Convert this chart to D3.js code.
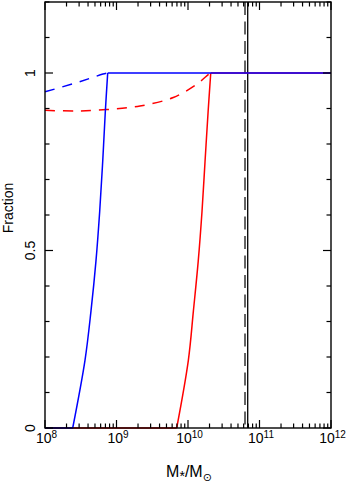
<!DOCTYPE html>
<html>
<head>
  <meta charset="UTF-8">
  <style>
    body { margin: 0; background: white; }
    svg text { font-family: "Liberation Sans", Arial, sans-serif; fill: black; }
  </style>
</head>
<body>
<svg id="chart" width="349" height="484"></svg>
<script src="https://d3js.org/d3.v7.min.js"></script>
<script>

// stellar mass and fraction for each curve
let blueSolidMass = [1e8, 2.44e8, 3.62e8, 4.4e8, 5.16e8, 5.82e8, 6.41e8, 6.97e8, 7.53e8, 1e12];
let blueSolidFrac = [0, 0, 0.19, 0.33, 0.47, 0.61, 0.75, 0.89, 1, 1];

let redSolidMass = [1e8, 6.95e9, 1.01e10, 1.19e10, 1.39e10, 1.57e10, 1.73e10, 1.91e10, 2.08e10, 1e12];
let redSolidFrac = [0, 0, 0.19, 0.33, 0.47, 0.61, 0.75, 0.89, 1, 1];

let blueDashMass = [1e8, 2.49e8, 4.27e8, 6.46e8, 7.53e8];
let blueDashFrac = [0.947, 0.970, 0.985, 0.997, 1.0];

let redDashMass = [1e8, 2.63e8, 7.3e8, 2.13e9, 6.22e9, 1.32e10, 1.83e10, 2.08e10];
let redDashFrac = [0.895, 0.893, 0.897, 0.907, 0.931, 0.968, 0.992, 1.0];

let vlineSolid = 6.84e10;
let vlineDash = 6.27e10;

let xMajor = [1e8, 1e9, 1e10, 1e11, 1e12];
let yMajor = [0, 0.5, 1];
let yLabels = ["0", "0.5", "1"];

let mLeft = 45, mRight = 331, mTop = 2, mBottom = 428;

let x = d3.scaleLog().domain([1e8, 1e12]).range([mLeft, mRight]);
let y = d3.scaleLinear().domain([0, 1.2]).range([mBottom, mTop]);

let svg = d3.select("#chart");

let smooth = d3.line()
    .x(d => x(d[0]))
    .y(d => y(d[1]))
    .curve(d3.curveCatmullRom.alpha(0.5));
let straight = d3.line()
    .x(d => x(d[0]))
    .y(d => y(d[1]));

function zip(a, b) { return a.map((v, i) => [v, b[i]]); }

// solid curves: flat at 0, rising part, flat at 1
function solidPath(mass, frac) {
    let pts = zip(mass, frac);
    let n = pts.length;
    return straight(pts.slice(0, 2)) + smooth(pts.slice(1, n - 1)) + straight(pts.slice(n - 2));
}

// vertical lines
svg.append("line")
    .attr("x1", x(vlineDash)).attr("x2", x(vlineDash))
    .attr("y1", mTop).attr("y2", mBottom)
    .attr("stroke", "#333").attr("stroke-width", 1.5)
    .attr("stroke-dasharray", "13,6.5");
svg.append("line")
    .attr("x1", x(vlineSolid)).attr("x2", x(vlineSolid))
    .attr("y1", mTop).attr("y2", mBottom)
    .attr("stroke", "black").attr("stroke-width", 1.3);

let curves = [
    {d: smooth(zip(redDashMass, redDashFrac)), color: "red", dash: "10,8"},
    {d: smooth(zip(blueDashMass, blueDashFrac)), color: "blue", dash: "10,8"},
    {d: solidPath(redSolidMass, redSolidFrac), color: "red", dash: null},
    {d: solidPath(blueSolidMass, blueSolidFrac), color: "blue", dash: null}
];

svg.selectAll("path.curve")
    .data(curves)
    .enter()
    .append("path")
    .attr("class", "curve")
    .attr("d", d => d.d)
    .attr("fill", "none")
    .attr("stroke", d => d.color)
    .attr("stroke-width", 1.5)
    .attr("stroke-dasharray", d => d.dash);

// ticks, all four sides, pointing inward
let xTicks = x.ticks();
let yTicks = d3.range(0, 1.21, 0.1).map(v => +v.toFixed(1));
let isMajorX = v => xMajor.some(m => Math.abs(m - v) / m < 1e-6);
let isMajorY = v => yMajor.some(m => Math.abs(m - v) < 1e-6);

let tg = svg.append("g").attr("stroke", "black").attr("stroke-width", 1.2);
xTicks.forEach(v => {
    let len = isMajorX(v) ? 8 : 4.5;
    tg.append("line").attr("x1", x(v)).attr("x2", x(v)).attr("y1", mBottom).attr("y2", mBottom - len);
    tg.append("line").attr("x1", x(v)).attr("x2", x(v)).attr("y1", mTop).attr("y2", mTop + len);
});
yTicks.forEach(v => {
    let len = isMajorY(v) ? 8 : 4.5;
    tg.append("line").attr("x1", mLeft).attr("x2", mLeft + len).attr("y1", y(v)).attr("y2", y(v));
    tg.append("line").attr("x1", mRight).attr("x2", mRight - len).attr("y1", y(v)).attr("y2", y(v));
});

// frame
svg.append("rect")
    .attr("x", mLeft).attr("y", mTop)
    .attr("width", mRight - mLeft).attr("height", mBottom - mTop)
    .attr("fill", "none").attr("stroke", "black").attr("stroke-width", 1.4);

// x tick labels
xMajor.forEach(v => {
    let t = svg.append("text")
        .attr("x", x(v) + 1.5).attr("y", 443)
        .attr("text-anchor", "middle")
        .attr("font-size", 14);
    t.append("tspan").text("10");
    t.append("tspan").attr("font-size", 10).attr("dy", -5).text(Math.round(Math.log10(v)));
});

// y tick labels
yMajor.forEach((v, i) => {
    svg.append("text")
        .attr("transform", "translate(35," + y(v) + ") rotate(-90)")
        .attr("text-anchor", "middle")
        .attr("font-size", 14)
        .text(yLabels[i]);
});

// axis titles
svg.append("text")
    .attr("transform", "translate(13,208) rotate(-90)")
    .attr("text-anchor", "middle")
    .attr("font-size", 14)
    .text("Fraction");

let xt = svg.append("text")
    .attr("x", 189).attr("y", 477)
    .attr("text-anchor", "middle")
    .attr("font-size", 16);
xt.append("tspan").text("M");
xt.append("tspan").attr("font-size", 14).attr("dy", 4).text("*");
xt.append("tspan").attr("dy", -4).text("/M");
xt.append("tspan").attr("font-size", 11).attr("dy", 4).attr("font-family", "DejaVu Sans").text("\u2299");

</script>
</body>
</html>
